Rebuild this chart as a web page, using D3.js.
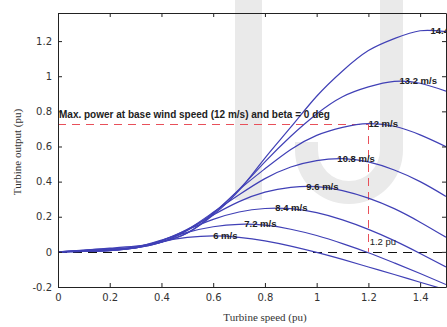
<!doctype html>
<meta charset="utf-8">
<script src="https://cdn.jsdelivr.net/npm/d3@7/dist/d3.min.js"></script>
<style>
  body { margin: 0; background: #fff; }
</style>
<body></body>
<script>

var width = 447;
var height = 327;

// turbine speed (pu), sampled every 0.1
var speed = [0, 0.1, 0.2, 0.3, 0.4, 0.5, 0.6, 0.7, 0.8, 0.9, 1.0, 1.1, 1.2, 1.3, 1.4, 1.5];

// turbine output (pu) for each wind speed
var p6   = [0, 0.002, 0.007, 0.028, 0.059, 0.082, 0.091, 0.083, 0.063, 0.033, -0.003, -0.043, -0.086, -0.129, -0.173, -0.216];
var p7_2 = [0, 0.003, 0.007, 0.026, 0.067, 0.111, 0.143, 0.157, 0.152, 0.129, 0.093, 0.047, -0.005, -0.063, -0.123, -0.186];
var p8_4 = [0, 0.003, 0.008, 0.024, 0.065, 0.126, 0.185, 0.227, 0.247, 0.246, 0.223, 0.182, 0.128, 0.064, -0.009, -0.086];
var p9_6 = [0, 0.005, 0.010, 0.023, 0.062, 0.129, 0.210, 0.286, 0.340, 0.367, 0.371, 0.349, 0.306, 0.246, 0.169, 0.083];
var p10_8 = [0, 0.006, 0.012, 0.023, 0.055, 0.126, 0.225, 0.325, 0.417, 0.483, 0.520, 0.531, 0.512, 0.466, 0.400, 0.316];
var p12  = [0, 0.007, 0.015, 0.023, 0.055, 0.122, 0.221, 0.353, 0.473, 0.583, 0.663, 0.709, 0.730, 0.715, 0.666, 0.599];
var p13_2 = [0, 0.009, 0.018, 0.027, 0.057, 0.107, 0.217, 0.356, 0.512, 0.658, 0.785, 0.883, 0.939, 0.971, 0.960, 0.915];
var p14_4 = [0, 0.010, 0.021, 0.033, 0.055, 0.108, 0.210, 0.350, 0.534, 0.710, 0.886, 1.030, 1.146, 1.214, 1.259, 1.254];

var curves = [p6, p7_2, p8_4, p9_6, p10_8, p12, p13_2, p14_4];
var curveLabels = ["6 m/s", "7.2 m/s", "8.4 m/s", "9.6 m/s", "10.8 m/s", "12 m/s", "13.2 m/s", "14.4 m/s"];
// where each label sits (at the curve's maximum)
var labelSpeed = [0.6, 0.72, 0.84, 0.96, 1.08, 1.2, 1.32, 1.44];
var labelPower = [0.091, 0.158, 0.250, 0.374, 0.532, 0.73, 0.972, 1.261];

var maxPower = 0.73;
var baseSpeed = 1.2;

var xTicks = [0, 0.2, 0.4, 0.6, 0.8, 1, 1.2, 1.4];
var xTickLabels = ["0", "0.2", "0.4", "0.6", "0.8", "1", "1.2", "1.4"];
var yTicks = [-0.2, 0, 0.2, 0.4, 0.6, 0.8, 1, 1.2];
var yTickLabels = ["-0.2", "0", "0.2", "0.4", "0.6", "0.8", "1", "1.2"];

var svg = d3.select("body")
        .append("svg")
        .attr("width", width)
        .attr("height", height)
        .style("display", "block");

svg.append("rect")
        .attr("width", width)
        .attr("height", height)
        .style("fill", "#fff");

var x = d3.scaleLinear().domain([0, 1.5]).range([58, 446]);
var y = d3.scaleLinear().domain([-0.2, 1.36]).range([287, 13]);

// faint "IJ" watermark behind the plot
var mark = svg.append("g").style("fill", "#eaeaea");
mark.append("rect").attr("x", 235).attr("y", 0).attr("width", 27).attr("height", 200);
mark.append("path")
        .attr("d", "M380,0 H403 V150 A54,54 0 0 1 295,150 V142 H318 V150 A31,31 0 0 0 380,150 Z");

svg.append("clipPath").attr("id", "plot")
    .append("rect")
        .attr("x", x(0)).attr("y", y(1.36))
        .attr("width", x(1.5) - x(0))
        .attr("height", y(-0.2) - y(1.36));

var plot = svg.append("g").attr("clip-path", "url(#plot)");

// zero line
plot.append("line")
        .attr("x1", x(0)).attr("x2", x(1.5))
        .attr("y1", Math.round(y(0)) + 0.5).attr("y2", Math.round(y(0)) + 0.5)
        .style("stroke", "#111")
        .style("stroke-width", 1)
        .style("stroke-dasharray", "9,6");

// max power marker at base wind speed (snapped to the pixel grid)
var ry = Math.round(y(maxPower)) + 0.5;
var rx = Math.round(x(baseSpeed)) + 0.5;
plot.append("path")
        .attr("d", "M" + x(0) + "," + ry + "H" + rx + "V" + y(0))
        .style("fill", "none")
        .style("stroke", "#e8505a")
        .style("stroke-width", 1)
        .style("stroke-dasharray", "8,6");

var line = d3.line()
        .x(function(d, i) { return x(speed[i]); })
        .y(function(d) { return y(d); })
        .curve(d3.curveNatural);

plot.selectAll(".curve")
        .data(curves)
        .enter().append("path")
        .attr("class", "curve")
        .attr("d", line)
        .style("fill", "none")
        .style("stroke", "#4040b6")
        .style("stroke-width", 1.2);

// the last label runs off the right edge, as in the original
plot.selectAll(".clabel")
        .data(curveLabels)
        .enter().append("text")
        .attr("class", "clabel")
        .attr("x", function(d, i) { return x(labelSpeed[i]); })
        .attr("y", function(d, i) { return y(labelPower[i]); })
        .attr("dy", "0.35em")
        .style("font-family", "Liberation Sans, Arial, sans-serif")
        .style("font-size", "9.5px")
        .style("font-weight", "bold")
        .style("fill", "#222")
        .text(function(d) { return d; });

svg.append("text")
        .attr("x", x(0) + 1)
        .attr("y", y(0.78))
        .attr("dy", "0.35em")
        .style("font-family", "Liberation Sans, Arial, sans-serif")
        .style("font-size", "10px")
        .style("font-weight", "bold")
        .style("fill", "#222")
        .text("Max. power at base wind speed (12 m/s) and beta = 0 deg");

svg.append("text")
        .attr("x", x(1.205))
        .attr("y", y(0.06))
        .attr("dy", "0.35em")
        .style("font-family", "Liberation Sans, Arial, sans-serif")
        .style("font-size", "9.5px")
        .style("fill", "#222")
        .text("1.2 pu");

// axes box with inward ticks
function styleAxis(g) {
    g.selectAll("path, line").style("stroke", "#222");
    g.selectAll("text")
        .style("font-family", "DejaVu Sans, sans-serif")
        .style("font-size", "10px")
        .style("fill", "#333");
}

svg.append("g")
        .attr("transform", "translate(0," + y(-0.2) + ")")
        .call(d3.axisBottom(x).tickValues(xTicks).tickSizeInner(-4).tickSizeOuter(0).tickPadding(7)
            .tickFormat(function(d, i) { return xTickLabels[i]; }))
        .call(styleAxis);

svg.append("g")
        .attr("transform", "translate(0," + y(1.36) + ")")
        .call(d3.axisTop(x).tickValues(xTicks).tickSizeInner(-4).tickSizeOuter(0).tickFormat(""))
        .call(styleAxis);

svg.append("g")
        .attr("transform", "translate(" + x(0) + ",0)")
        .call(d3.axisLeft(y).tickValues(yTicks).tickSizeInner(-4).tickSizeOuter(0).tickPadding(6)
            .tickFormat(function(d, i) { return yTickLabels[i]; }))
        .call(styleAxis);

svg.append("g")
        .attr("transform", "translate(" + x(1.5) + ",0)")
        .call(d3.axisRight(y).tickValues(yTicks).tickSizeInner(-4).tickSizeOuter(0).tickFormat(""))
        .call(styleAxis);

svg.append("text")
        .attr("x", 265)
        .attr("y", 321)
        .attr("text-anchor", "middle")
        .style("font-family", "Liberation Serif, Times New Roman, serif")
        .style("font-size", "11px")
        .style("fill", "#333")
        .text("Turbine speed (pu)");

svg.append("text")
        .attr("transform", "translate(21,152) rotate(-90)")
        .attr("text-anchor", "middle")
        .style("font-family", "Liberation Serif, Times New Roman, serif")
        .style("font-size", "11px")
        .style("fill", "#333")
        .text("Turbine output (pu)");

</script>
